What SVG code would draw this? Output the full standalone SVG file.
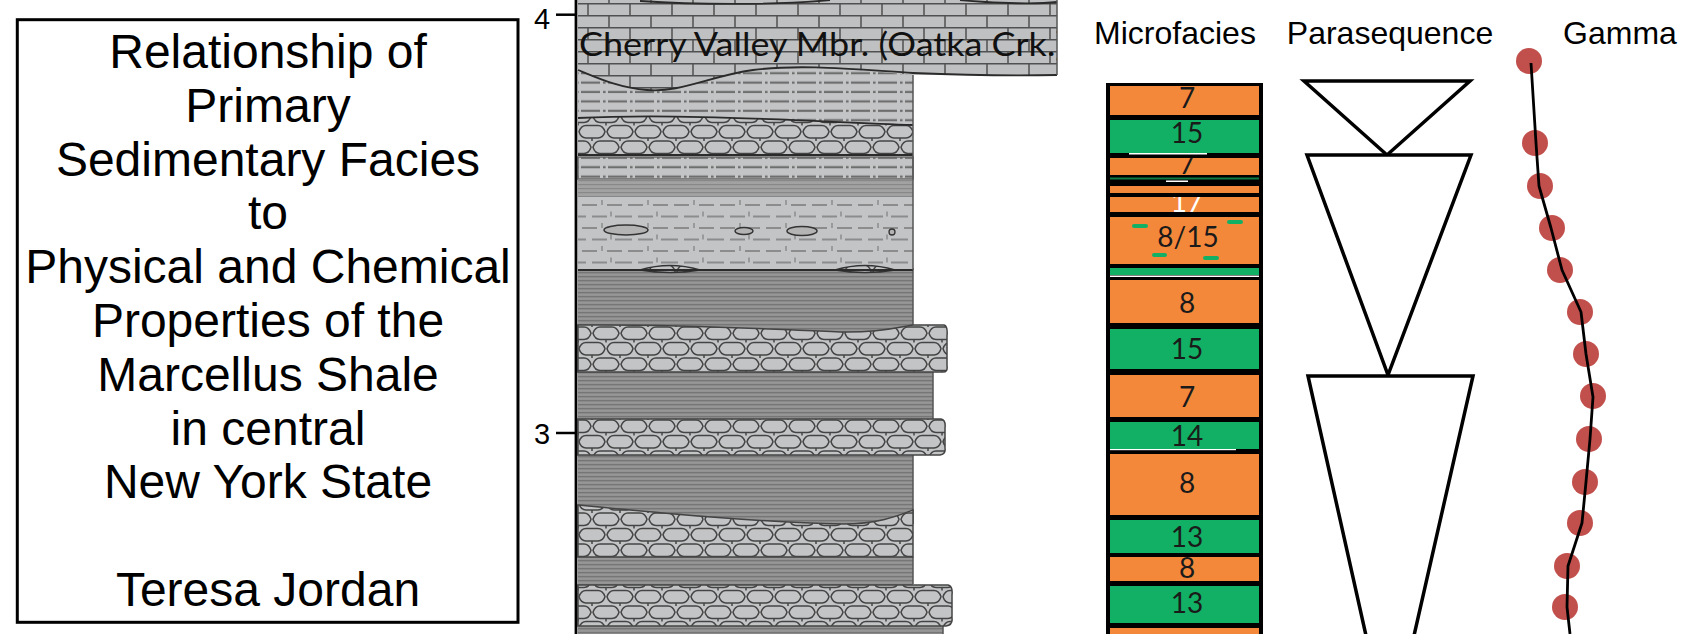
<svg xmlns="http://www.w3.org/2000/svg" width="1684" height="634" viewBox="0 0 1684 634">
<style>
.title{font-family:"Liberation Sans",Arial,sans-serif;font-size:48px;fill:#000;text-anchor:middle}
.hdr{font-family:"Liberation Sans",Arial,sans-serif;font-size:32px;fill:#000;text-anchor:middle}
.depth{font-family:"Liberation Sans",Arial,sans-serif;font-size:29px;fill:#000}
.mf{font-family:Lato,"Open Sans",sans-serif;font-size:28px;fill:#1a1a1a;text-anchor:middle}
.or{fill:#f4883a}
.gr{fill:#12b064}
.bd{fill:none;stroke:#2b2b2b;stroke-width:1.8}
.edge{fill:none;stroke:#555;stroke-width:1.5}
.tri{fill:#fff;stroke:#000;stroke-width:3.5;stroke-linejoin:miter}
.dot{fill:#c1504d}
.gdash{fill:#12b064}
</style>
<defs>
<pattern id="brick" width="42" height="24" patternUnits="userSpaceOnUse" x="578" y="3">
<rect width="42" height="24" fill="#bfc0c2"/>
<path d="M0,0.75H42M0,12.75H42M10,0V12.75M31,12.75V24" stroke="#505050" stroke-width="1.5"/>
</pattern>
<pattern id="dashdot" width="27" height="9.4" patternUnits="userSpaceOnUse" x="580" y="78">
<rect width="27" height="9.4" fill="#c3c4c6"/>
<rect x="1" y="3.5" width="19" height="2.2" fill="#6e6e6e"/>
<rect x="23" y="3.5" width="2.6" height="2.2" fill="#6e6e6e"/>
</pattern>
<pattern id="calc" width="46" height="23" patternUnits="userSpaceOnUse" x="580" y="199">
<rect width="46" height="23" fill="#c3c4c6"/>
<path d="M2,6H17M27,6H42M0,17.5H6M12,17.5H27M35,17.5H46" stroke="#8c8c8c" stroke-width="2"/>
<path d="M22,1V6M31,12.5V17.5" stroke="#8c8c8c" stroke-width="1.5"/>
</pattern>
<pattern id="shale" width="10" height="4" patternUnits="userSpaceOnUse">
<rect width="10" height="4" fill="#8e8e8e"/>
<rect y="0" width="10" height="1.2" fill="#767676"/>
<rect y="2.5" width="10" height="0.8" fill="#a0a0a0"/>
</pattern>
<pattern id="shale2" width="10" height="4" patternUnits="userSpaceOnUse">
<rect width="10" height="4" fill="#a2a2a2"/>
<rect y="0" width="10" height="1.2" fill="#888"/>
</pattern>
<pattern id="hex" width="28" height="31" patternUnits="userSpaceOnUse" x="578" y="0">
<rect width="28" height="31" fill="#c3c4c6"/>
<path d="M1,7.75 Q3,1.5 8,1.5 H20 Q25,1.5 27,7.75 Q25,14 20,14 H8 Q3,14 1,7.75 Z M15,23.25 Q17,17 22,17 H34 Q39,17 41,23.25 Q39,29.5 34,29.5 H22 Q17,29.5 15,23.25 Z M-13,23.25 Q-11,17 -6,17 H6 Q11,17 13,23.25 Q11,29.5 6,29.5 H-6 Q-11,29.5 -13,23.25 Z M14,14 V17 M0,29.5 V31 M28,29.5 V31 M0,0 V1.5 M28,0 V1.5" fill="none" stroke="#444" stroke-width="1.5"/>
</pattern>
<clipPath id="cvclip"><rect x="576" y="0" width="481" height="80"/></clipPath>
<clipPath id="c7b"><rect x="1110" y="158" width="149" height="17"/></clipPath>
<clipPath id="c17"><rect x="1110" y="197" width="149" height="15"/></clipPath>
<clipPath id="c8c"><rect x="1110" y="557" width="149" height="24"/></clipPath>
<clipPath id="c14"><rect x="1110" y="422" width="149" height="27"/></clipPath>
</defs>
<rect width="1684" height="634" fill="#fff"/>

<g id="title-box">
<rect x="17.3" y="19.7" width="500.7" height="602.6" fill="none" stroke="#000" stroke-width="3"/>
<text class="title" x="268" y="68">Relationship of</text>
<text class="title" x="268" y="121.8">Primary</text>
<text class="title" x="268" y="175.6">Sedimentary Facies</text>
<text class="title" x="268" y="229.4">to</text>
<text class="title" x="268" y="283.2">Physical and Chemical</text>
<text class="title" x="268" y="337">Properties of the</text>
<text class="title" x="268" y="390.8">Marcellus Shale</text>
<text class="title" x="268" y="444.6">in central</text>
<text class="title" x="268" y="498.4">New York State</text>
<text class="title" x="268" y="606">Teresa Jordan</text>
</g>

<g id="lithology">
<rect x="578" y="180" width="335" height="17" fill="url(#shale2)"/>
<rect x="578" y="266" width="335" height="68" fill="url(#shale)"/>
<rect x="578" y="370" width="355" height="51" fill="url(#shale)"/>
<rect x="578" y="452" width="335" height="80" fill="url(#shale)"/>
<rect x="578" y="555" width="335" height="31" fill="url(#shale)"/>
<rect x="578" y="623" width="365" height="15" fill="url(#shale)"/>
<path class="edge" d="M913,268V334M933,372V419M913,454V524M913,557V584M943,625V634"/>
<rect x="578" y="60" width="335" height="66" fill="url(#dashdot)"/>
<rect x="578" y="157" width="335" height="22" fill="url(#dashdot)" stroke="#666" stroke-width="1.5"/>
<rect x="578" y="197" width="335" height="73" fill="url(#calc)"/>
<path d="M578,118 C680,113 800,121 913,125 V155 H578 Z" fill="url(#hex)"/>
<path d="M578,325 C700,324 780,330 840,332 C880,333 900,327 913,325 H944 Q948,326 947,336 V366 Q948,372 943,372 H578 Z" fill="url(#hex)" stroke="#444" stroke-width="1.5"/>
<path d="M578,419 H941 Q946,420 945,428 V448 Q946,454 940,455 H578 Z" fill="url(#hex)" stroke="#444" stroke-width="1.5"/>
<path d="M578,505 C650,512 750,522 843,524 C880,524 900,515 913,510 V557 H578 Z" fill="url(#hex)" stroke="#444" stroke-width="1.5"/>
<path d="M578,585 H948 Q953,586 952,595 V618 Q953,625 946,626 H578 Z" fill="url(#hex)" stroke="#444" stroke-width="1.5"/>
<path d="M640,270 Q670,261 700,270 Q670,275 640,270 Z M835,270 Q865,261 895,270 Q865,275 835,270 Z" fill="url(#hex)" stroke="#333" stroke-width="1.5"/>
<path d="M578,0 H1057 V75 H913 C850,69 800,64 753,70 C710,76 680,93 647,90 C620,88 600,79 578,70 Z" fill="url(#brick)"/>
<path class="bd" d="M578,70 C600,79 620,88 647,90 C680,93 710,76 753,70 C800,64 850,69 913,73 C960,75 1010,76 1057,75"/>
<path class="bd" d="M578,118 C680,113 800,121 913,125"/>
<path class="bd" d="M578,155 H913"/>
<path class="bd" d="M578,270 H913"/>
<path class="bd" d="M640,1 C700,5 780,5 830,0 M960,0 C1000,4 1040,4 1057,2"/>
<path class="edge" d="M913,75V270M1057,0V75"/>
<ellipse cx="626" cy="230" rx="22" ry="5" fill="#b4b4b4" stroke="#333" stroke-width="1.5"/>
<ellipse cx="744" cy="231" rx="9" ry="3.5" fill="#b4b4b4" stroke="#333" stroke-width="1.5"/>
<ellipse cx="802" cy="231" rx="15" ry="4.5" fill="#b4b4b4" stroke="#333" stroke-width="1.5"/>
<circle cx="892" cy="232" r="3" fill="#b4b4b4" stroke="#333" stroke-width="1.3"/>
<text x="579" y="56" clip-path="url(#cvclip)" font-family="Lato,'Open Sans',sans-serif" font-size="32" fill="#111" textLength="486" lengthAdjust="spacingAndGlyphs">Cherry Valley Mbr. (Oatka Crk.)</text>
</g>

<g id="depth-axis">
<line x1="576" y1="0" x2="576" y2="634" stroke="#000" stroke-width="2.8"/>
<line x1="556" y1="14.7" x2="576" y2="14.7" stroke="#000" stroke-width="2.5"/>
<line x1="556" y1="433" x2="576" y2="433" stroke="#000" stroke-width="2.5"/>
<text class="depth" x="534" y="29.3">4</text>
<text class="depth" x="534" y="444">3</text>
</g>

<g id="headers">
<text class="hdr" x="1175" y="44">Microfacies</text>
<text class="hdr" x="1390" y="44">Parasequence</text>
<text class="hdr" x="1620" y="44">Gamma</text>
</g>

<g id="microfacies">
<rect x="1106" y="83" width="157" height="560" fill="#000"/>
<rect class="or" x="1110" y="86" width="149" height="29"/>
<rect class="gr" x="1110" y="120" width="149" height="33"/>
<rect x="1129" y="153" width="78" height="1.5" fill="#fff"/>
<rect class="or" x="1110" y="158" width="149" height="17"/>
<rect x="1110" y="177.5" width="149" height="2" fill="#0e7a45"/>
<rect x="1166" y="180.5" width="22" height="1.5" fill="#fff"/>
<rect class="or" x="1110" y="186" width="149" height="7"/>
<rect class="or" x="1110" y="197" width="149" height="15"/>
<rect class="or" x="1110" y="217" width="149" height="47"/>
<rect class="gr" x="1110" y="268" width="149" height="7"/>
<rect x="1110" y="275.5" width="149" height="1.5" fill="#fff"/>
<rect class="or" x="1110" y="280" width="149" height="43"/>
<rect class="gr" x="1110" y="329" width="149" height="40"/>
<rect class="or" x="1110" y="375" width="149" height="42"/>
<rect class="gr" x="1110" y="422" width="149" height="27"/>
<rect x="1110" y="449" width="126" height="1.2" fill="#fff"/>
<rect class="or" x="1110" y="454" width="149" height="61"/>
<rect class="gr" x="1110" y="520" width="149" height="33"/>
<rect class="or" x="1110" y="557" width="149" height="24"/>
<rect class="gr" x="1110" y="586" width="149" height="37"/>
<rect class="or" x="1110" y="628" width="149" height="12"/>
<rect class="gdash" x="1132" y="224" width="16" height="4" rx="2"/>
<rect class="gdash" x="1227" y="220" width="16" height="4" rx="2"/>
<rect class="gdash" x="1152" y="253" width="15" height="4" rx="2"/>
<rect class="gdash" x="1203" y="256" width="16" height="4" rx="2"/>
<text class="mf" x="1187" y="108">7</text>
<text class="mf" x="1187" y="143">15</text>
<text class="mf" x="1187" y="174" clip-path="url(#c7b)">7</text>
<text class="mf" x="1187" y="212" clip-path="url(#c17)" style="fill:#fff">17</text>
<text class="mf" x="1188" y="247">8/15</text>
<text class="mf" x="1187" y="313">8</text>
<text class="mf" x="1187" y="359">15</text>
<text class="mf" x="1187" y="407">7</text>
<text class="mf" x="1187" y="446" clip-path="url(#c14)">14</text>
<text class="mf" x="1187" y="493">8</text>
<text class="mf" x="1187" y="547">13</text>
<text class="mf" x="1187" y="578" clip-path="url(#c8c)">8</text>
<text class="mf" x="1187" y="613">13</text>
</g>

<g id="parasequence">
<polygon class="tri" points="1304,81 1470,81 1387,155"/>
<polygon class="tri" points="1307,155 1471,155 1388,375"/>
<path class="tri" d="M1367,640 L1308,376 H1473 L1413,640"/>
</g>

<g id="gamma">
<circle class="dot" cx="1529" cy="61" r="13"/>
<circle class="dot" cx="1535" cy="143" r="13"/>
<circle class="dot" cx="1540" cy="186" r="13"/>
<circle class="dot" cx="1552" cy="228" r="13"/>
<circle class="dot" cx="1560" cy="270" r="13"/>
<circle class="dot" cx="1580" cy="312" r="13"/>
<circle class="dot" cx="1586" cy="354" r="13"/>
<circle class="dot" cx="1593" cy="396" r="13"/>
<circle class="dot" cx="1589" cy="439" r="13"/>
<circle class="dot" cx="1585" cy="482" r="13"/>
<circle class="dot" cx="1580" cy="523" r="13"/>
<circle class="dot" cx="1567" cy="566" r="13"/>
<circle class="dot" cx="1565" cy="607" r="13"/>
</g>

<g id="connectors">
<polyline points="1531,63 1536,143 1539,186 1551,228 1562,270 1581,312 1586,354 1593,397 1590,439 1586,482 1582,523 1568,566 1567,607 1570,634" fill="none" stroke="#000" stroke-width="2.8" stroke-linejoin="round"/>
</g>
</svg>
